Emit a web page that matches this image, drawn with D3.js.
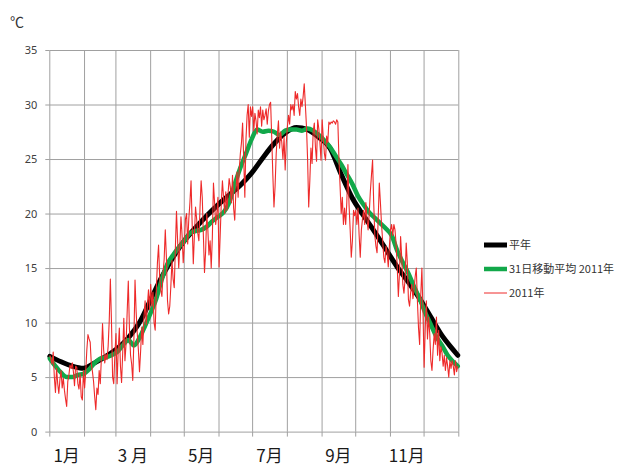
<!DOCTYPE html>
<html>
<head>
<meta charset="utf-8">
<script src="https://cdn.jsdelivr.net/npm/d3@7"></script>
<style>
  body { margin: 0; background: #fff; }
  text { font-family: "Noto Sans CJK JP", "Noto Sans", sans-serif; }
</style>
</head>
<body>
<svg id="chart" width="624" height="470"></svg>
<script>
// Days in each month of 2011 (category axis: one slot per day)
const monthLengths = [31, 28, 31, 30, 31, 30, 31, 31, 30, 31, 30, 31];
const monthLabels = ["1月", "", "3 月", "", "5月", "", "7月", "", "9月", "", "11月", ""];
const yTicks = [0, 5, 10, 15, 20, 25, 30, 35];
const seriesNames = ["平年", "31日移動平均 2011年", "2011年"];

// Normal (平年) daily mean temperature, sampled every 10 days
const normalDays = [0, 10, 20, 30, 40, 50, 60, 70, 80, 90, 100, 110, 120, 130, 140, 150, 160, 170, 180,
  190, 200, 210, 220, 230, 240, 250, 260, 270, 280, 290, 300, 310, 320, 330, 340, 350, 360, 364];
const normalTemp = [6.9, 6.4, 6.0, 5.8, 6.3, 6.9, 7.6, 8.6, 10.0, 12.1, 14.2, 16.0, 17.5, 18.7, 19.8, 20.8, 21.7, 22.6, 23.7,
  25.1, 26.4, 27.4, 27.9, 27.7, 27.0, 26.0, 23.6, 21.4, 19.8, 18.3, 16.7, 15.1, 13.7, 12.2, 10.5, 8.8, 7.5, 7.0];

// 31-day moving average of 2011, sampled every 5 days
const avgDays = [0, 5, 10, 15, 20, 25, 30, 35, 40, 45, 50, 55, 60, 65, 70, 75, 80, 85, 90, 95,
  100, 105, 110, 115, 120, 125, 130, 135, 140, 145, 150, 155, 160, 165, 170, 175, 180, 185, 190, 195,
  200, 205, 210, 215, 220, 225, 230, 235, 240, 245, 250, 255, 260, 265, 270, 275, 280, 285, 290, 295,
  300, 305, 310, 315, 320, 325, 330, 335, 340, 345, 350, 355, 360, 364];
const avgTemp = [6.7, 6.0, 5.4, 5.0, 5.0, 5.2, 5.3, 5.7, 6.3, 6.7, 6.8, 7.0, 7.3, 7.9, 8.4, 7.9, 8.6, 9.7, 10.9, 12.2,
  14.0, 15.4, 16.2, 16.9, 17.5, 18.2, 18.4, 18.5, 18.8, 19.3, 19.7, 20.1, 21.0, 22.7, 24.2, 25.5, 26.8, 27.7, 27.5, 27.6,
  27.5, 27.2, 27.6, 27.7, 27.7, 27.6, 27.8, 27.6, 27.2, 26.7, 26.1, 25.3, 24.5, 23.6, 22.7, 21.6, 20.8, 20.1, 19.6, 19.1,
  18.6, 18.0, 16.6, 15.5, 14.5, 13.3, 12.2, 10.9, 9.8, 8.7, 7.9, 7.0, 6.4, 6.0];

// 2011 daily mean temperature, one row per month
const daily2011 = [
  7.0, 6.6, 6.2, 7.3, 5.0, 3.6, 5.8, 4.4, 3.5, 4.8, 5.6, 4.0, 4.9, 3.8, 3.0, 2.3, 4.6, 5.2, 6.1, 5.8, 6.3, 5.5, 4.2, 6.0, 5.9, 4.4, 3.9, 5.3, 3.2, 2.9, 5.6,
  4.0, 5.5, 7.5, 8.9, 8.5, 8.2, 6.2, 5.5, 4.6, 3.2, 2.0, 4.0, 3.4, 5.6, 4.4, 6.8, 9.9, 7.5, 6.3, 7.1, 6.6, 7.8, 10.2, 14.0, 10.0, 5.0, 4.4, 7.0,
  9.0, 4.4, 7.5, 9.5, 6.0, 4.5, 7.2, 10.4, 6.5, 8.0, 11.0, 13.8, 9.5, 7.0, 6.2, 4.7, 8.5, 13.9, 11.0, 9.0, 7.5, 5.5, 7.4, 9.6, 8.0, 10.5, 12.0, 9.8, 11.5, 13.0, 11.2,
  13.5, 11.5, 12.8, 10.0, 9.3, 13.0, 15.5, 17.1, 14.2, 13.0, 12.4, 14.5, 15.8, 18.5, 16.0, 12.0, 10.8, 11.5, 13.4, 15.7, 14.0, 13.2, 16.8, 20.2, 17.5, 15.0, 17.0, 19.7, 18.0, 15.5,
  17.0, 19.5, 20.0, 17.2, 19.5, 21.0, 23.0, 19.0, 15.4, 18.0, 20.6, 19.5, 18.2, 17.5, 20.5, 23.0, 21.5, 18.0, 14.6, 16.5, 20.0, 18.5, 16.2, 17.5, 15.0, 17.8, 22.8, 21.0, 19.0, 20.0, 21.5,
  15.1, 18.0, 21.0, 23.0, 21.5, 20.0, 22.0, 20.3, 21.8, 23.2, 22.5, 21.0, 23.5, 20.5, 19.4, 22.0, 23.8, 21.5, 24.0, 25.5, 26.5, 28.3, 25.0, 21.5, 26.8, 29.0, 30.0, 27.0, 29.8, 28.9,
  29.8, 27.6, 29.2, 28.5, 27.3, 29.5, 28.8, 29.8, 28.0, 29.5, 28.6, 29.0, 29.6, 28.2, 29.4, 30.0, 30.2, 27.0, 23.5, 20.6, 22.5, 25.5, 27.2, 28.5, 26.0, 27.5, 26.5, 25.0, 27.0, 24.0, 26.5,
  28.0, 29.0, 28.2, 30.0, 29.5, 30.0, 29.0, 31.2, 30.5, 31.0, 29.8, 29.0, 30.5, 29.8, 30.7, 31.9, 30.0, 28.0, 25.0, 20.6, 23.0, 26.0, 24.6, 27.5, 28.3, 26.1, 24.8, 28.6, 27.8, 26.5, 24.9,
  28.6, 27.0, 25.5, 24.9, 27.1, 26.5, 28.4, 28.2, 28.4, 28.3, 28.5, 28.4, 28.2, 28.6, 28.4, 25.0, 22.5, 20.0, 21.5, 19.0, 20.5, 19.0, 21.0, 24.5, 20.8, 18.5, 16.0, 17.5, 20.3, 19.8,
  20.3, 19.0, 20.5, 18.0, 16.0, 18.5, 19.5, 20.3, 19.0, 21.0, 19.5, 18.5, 20.0, 22.0, 23.5, 24.9, 21.0, 18.0, 17.0, 16.4, 19.5, 22.8, 21.0, 19.0, 17.5, 16.0, 15.5, 17.0, 16.4, 15.1, 17.0,
  18.5, 19.0, 18.0, 19.0, 18.5, 17.2, 15.1, 12.4, 14.5, 17.9, 16.0, 13.5, 12.7, 14.0, 17.3, 15.5, 12.1, 11.5, 12.8, 13.5, 12.2, 13.0, 14.2, 15.0, 12.0, 9.5, 8.0, 12.5, 15.0, 11.0,
  5.9, 9.5, 12.0, 8.5, 10.5, 9.0, 6.5, 5.6, 7.5, 9.0, 8.0, 10.5, 7.0, 9.3, 6.5, 7.8, 7.2, 6.0, 7.0, 5.6, 6.8, 6.0, 5.0, 6.5, 5.8, 6.5, 6.0, 5.2, 6.5, 5.5, 6.0
];

const svg = d3.select("#chart");
const plot = { left: 49.3, right: 458.3, top: 50, bottom: 431.6 };
const gridColor = "#a0a0a0";

const totalDays = d3.sum(monthLengths);
const x = d3.scaleLinear().domain([0, totalDays]).range([plot.left, plot.right]);
const y = d3.scaleLinear().domain([0, 35]).range([plot.bottom, plot.top]);

const monthStarts = [0, ...Array.from(d3.cumsum(monthLengths))];

// Horizontal gridlines + y axis labels
const yAxis = svg.append("g")
  .attr("transform", `translate(${plot.left},0)`)
  .call(d3.axisLeft(y).tickValues(yTicks).tickSizeInner(4).tickSizeOuter(0).tickPadding(8));
yAxis.selectAll(".tick text").attr("font-size", 11).attr("fill", "#404040")
  .style("font-family", "'Noto Sans', sans-serif");
yAxis.selectAll(".tick line").attr("stroke", gridColor);
yAxis.select(".domain").attr("stroke", gridColor);
yAxis.selectAll(".tick").filter(d => d > 0).append("line")
  .attr("x1", 0).attr("x2", plot.right - plot.left).attr("stroke", gridColor).attr("stroke-width", 1);

// Vertical gridlines at month boundaries, tick marks below the axis
const xAxis = svg.append("g")
  .attr("transform", `translate(0,${plot.bottom})`)
  .call(d3.axisBottom(x).tickValues(monthStarts).tickSizeInner(5).tickSizeOuter(0).tickFormat(""));
xAxis.selectAll(".tick line").attr("stroke", gridColor);
xAxis.select(".domain").attr("stroke", gridColor);
xAxis.selectAll(".tick").filter((d, i) => i > 0).append("line")
  .attr("y1", 0).attr("y2", plot.top - plot.bottom).attr("stroke", gridColor).attr("stroke-width", 1);

// Month labels centred in their month
const labelData = monthLabels
  .map((label, i) => ({ label, mid: monthStarts[i] + monthLengths[i] / 2 }))
  .filter(d => d.label);
svg.append("g").selectAll("text")
  .data(labelData)
  .join("text")
  .attr("x", d => x(d.mid))
  .attr("y", 462)
  .attr("text-anchor", "middle")
  .attr("font-size", 17)
  .attr("fill", "#1a1a1a")
  .text(d => d.label);

// Unit label
svg.append("text").attr("x", 10).attr("y", 27).attr("font-size", 14).attr("fill", "#333").text("℃");

// Series lines
const smooth = d3.line().x(d => x(d[0] + 0.5)).y(d => y(d[1])).curve(d3.curveMonotoneX);
const plain = d3.line().x((d, i) => x(i + 0.5)).y(d => y(d));

const colors = ["#000000", "#12a84a", "#ee2a2a"];
const widths = [5, 4.5, 1.1];

svg.append("path")
  .datum(normalDays.map((d, i) => [d, normalTemp[i]]))
  .attr("d", smooth).attr("fill", "none")
  .attr("stroke", colors[0]).attr("stroke-width", widths[0]).attr("stroke-linejoin", "round").attr("stroke-linecap", "round");

svg.append("path")
  .datum(avgDays.map((d, i) => [d, avgTemp[i]]))
  .attr("d", smooth).attr("fill", "none")
  .attr("stroke", colors[1]).attr("stroke-width", widths[1]).attr("stroke-linejoin", "round").attr("stroke-linecap", "round");

svg.append("path")
  .datum(daily2011)
  .attr("d", plain).attr("fill", "none")
  .attr("stroke", colors[2]).attr("stroke-width", widths[2]).attr("stroke-linejoin", "round");

// Legend
const legend = svg.append("g").attr("transform", "translate(484,245)");
seriesNames.forEach((name, i) => {
  const row = legend.append("g").attr("transform", `translate(0,${i * 24})`);
  row.append("line").attr("x1", 0).attr("x2", 23).attr("y1", 0).attr("y2", 0)
    .attr("stroke", colors[i]).attr("stroke-width", i === 2 ? 1 : widths[i]);
  row.append("text").attr("x", 25).attr("y", 4).attr("font-size", 11).attr("fill", "#333").text(name);
});
</script>
</body>
</html>
